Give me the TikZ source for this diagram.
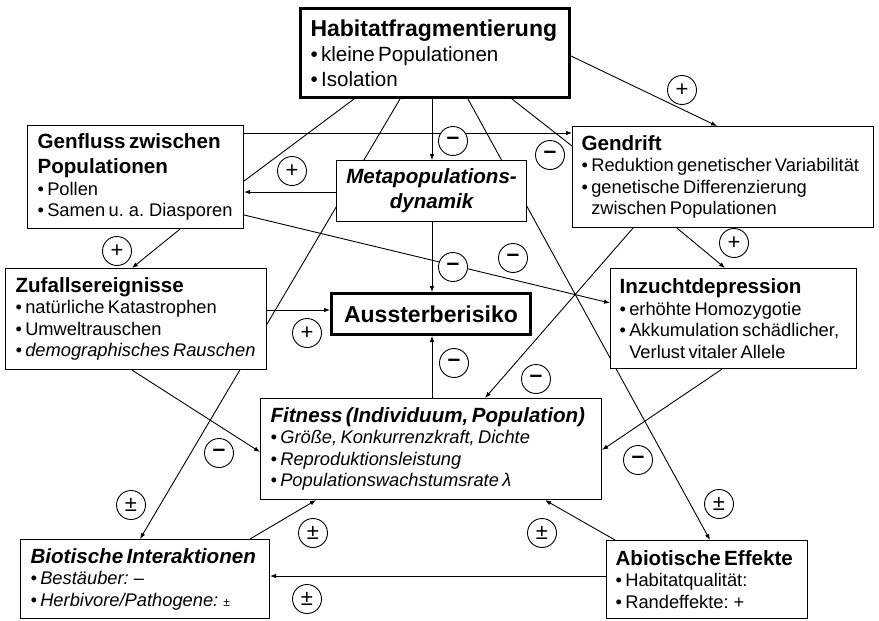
\documentclass[tikz,border=0pt]{standalone}
\usepackage{fontspec}
\setmainfont{Liberation Sans}
\usetikzlibrary{arrows.meta,calc,backgrounds}
\newcommand\hdf{\fontsize{20.6}{25}\selectfont\bfseries}
\newcommand\bgf{\fontsize{23}{27}\selectfont\bfseries}
\newcommand\itf{\fontsize{18.3}{21.5}\selectfont}
\newcommand\hitf{\fontsize{20.6}{25}\selectfont}
\newcommand\ind{\phantom{•\ }}
\newcommand\mns{{\fontsize{23}{23}\selectfont\bfseries –}}
\begin{document}
\begin{tikzpicture}[x=1pt,y=-1pt,
  box/.style={draw, fill=white, line width=1.1pt, anchor=north west, inner xsep=10pt, inner ysep=0pt, align=left},
  thickbox/.style={box, line width=3pt},
  conn/.style={line width=0.9pt},
  arr/.style={conn, -{Latex[length=6pt,width=4.6pt]}},
  sig/.style={circle, draw, fill=white, line width=0.9pt, minimum size=29pt, inner sep=0pt, font=\fontsize{22}{22}\selectfont}]
\useasboundingbox (0,0) rectangle (879,621);

% boxes
\node[thickbox, minimum width=269pt, text width=249pt, minimum height=89pt] (H) at (299,7)
  {{\bgf Habitatfragmentierung\par}{\hitf • kleine Populationen\\• Isolation\par}};
\node[box, minimum width=216pt, text width=196pt, minimum height=103pt] (G) at (27,125)
  {{\hdf Genfluss zwischen\\Populationen\par}{\itf • Pollen\\• Samen u. a. Diasporen\par}};
\node[box, align=center, inner xsep=5pt, minimum width=190pt, text width=180pt, minimum height=61pt] (M) at (336,160)
  {{\hdf\itshape Metapopulations-\\dynamik\par}};
\node[box, inner xsep=9pt, minimum width=301pt, text width=283pt, minimum height=101pt] (D) at (572,126)
  {{\hdf Gendrift\par}{\itf • Reduktion genetischer Variabilität\\• genetische Differenzierung\\\ind zwischen Populationen\par}};
\node[box, minimum width=261pt, text width=241pt, minimum height=101pt] (Z) at (5,268)
  {{\hdf Zufallsereignisse\par}{\itf • natürliche Katastrophen\\• Umweltrauschen\\\textit{• demographisches Rauschen}\par}};
\node[thickbox, align=center, inner xsep=4.5pt, minimum width=199pt, text width=190pt, minimum height=41pt] (A) at (330,292)
  {{\bgf Aussterberisiko\par}};
\node[box, inner xsep=9pt, minimum width=246pt, text width=228pt, minimum height=100pt] (I) at (610,268)
  {{\hdf Inzuchtdepression\par}{\itf • erhöhte Homozygotie\\• Akkumulation schädlicher,\\\ind Verlust vitaler Allele\par}};
\node[box, minimum width=341pt, text width=321pt, minimum height=101pt] (F) at (260,398)
  {{\hdf\itshape Fitness (Individuum, Population)\par}{\itf\itshape • Größe, Konkurrenzkraft, Dichte\\• Reproduktionsleistung\\• Populationswachstumsrate λ\par}};
\node[box, minimum width=249pt, text width=229pt, minimum height=79pt] (B) at (20,539)
  {{\hdf\itshape Biotische Interaktionen\par}{\itf\itshape • Bestäuber: –\\• Herbivore/Pathogene: {\fontsize{12}{12}\selectfont ±}\par}};
\node[box, inner xsep=9pt, minimum width=201pt, text width=183pt, minimum height=78pt] (Ab) at (606,540)
  {{\hdf Abiotische Effekte\par}{\itf • Habitatqualität:\\• Randeffekte: +\par}};

% signs
\node[sig] (s1) at (682,90) {+};
\node[sig] (s2) at (292,171) {+};
\node[sig] (s3) at (453,141) {\mns};
\node[sig] (s4) at (550,155) {\mns};
\node[sig] (s5) at (117,251) {+};
\node[sig] (s6) at (734,243) {+};
\node[sig] (s7) at (453,267) {\mns};
\node[sig] (s8) at (513,258) {\mns};
\node[sig] (s9) at (307,333) {+};
\node[sig] (s10) at (454,363) {\mns};
\node[sig] (s11) at (536,379) {\mns};
\node[sig] (s12) at (219,453) {\mns};
\node[sig] (s13) at (638,460) {\mns};
\node[sig] (s14) at (131,505) {±};
\node[sig] (s15) at (719,504) {±};
\node[sig] (s16) at (313,533) {±};
\node[sig] (s17) at (542,533) {±};
\node[sig] (s18) at (307,599) {±};

\begin{scope}[on background layer]
\fill[white] (0,0) rectangle (879,621);
\draw[arr] ($(H.north east)+(0,49)$) -- ($(D.north west)+(145,0)$);
\draw[arr] ($(H.south west)+(133,0)$) -- ($(M.north west)+(96,0)$);
\draw[conn] ($(H.south west)+(55,0)$) -- ($(G.north east)+(0,56)$);
\draw[arr] ($(H.south west)+(101,0)$) -- ($(B.north west)+(120,0)$);
\draw[arr] ($(H.south west)+(169,0)$) -- ($(Ab.north west)+(104,0)$);
\draw[conn] ($(H.south west)+(213,0)$) -- ($(D.north west)+(0,20)$);
\draw[arr] ($(G.north east)+(0,8)$) -- ($(D.north west)+(0,7)$);
\draw[arr] ($(M.north west)+(0,32)$) -- ($(G.north east)+(0,67)$);
\draw[arr] ($(M.south west)+(96,0)$) -- ($(A.north west)+(102,0)$);
\draw[arr] ($(G.north east)+(0,90)$) -- ($(I.north west)+(0,35)$);
\draw[arr] ($(G.south west)+(153,0)$) -- ($(Z.north west)+(127,0)$);
\draw[arr] ($(Z.north east)+(0,42)$) -- ($(A.north west)+(0,18)$);
\draw[arr] ($(Z.south west)+(127,0)$) -- ($(F.north west)+(0,54)$);
\draw[arr] ($(D.south west)+(61,0)$) -- ($(F.north west)+(225,0)$);
\draw[arr] ($(D.south west)+(105,0)$) -- ($(I.north west)+(115,0)$);
\draw[arr] ($(I.south west)+(112,0)$) -- ($(F.north east)+(0,52)$);
\draw[arr] ($(F.north west)+(172,0)$) -- ($(A.south west)+(102,0)$);
\draw[arr] ($(B.north west)+(230,0)$) -- ($(F.south west)+(56,0)$);
\draw[arr] ($(Ab.north west)+(9,0)$) -- ($(F.south west)+(285,0)$);
\draw[arr] ($(Ab.north west)+(0,36)$) -- ($(B.north east)+(0,37)$);
\end{scope}
\end{tikzpicture}
\end{document}
